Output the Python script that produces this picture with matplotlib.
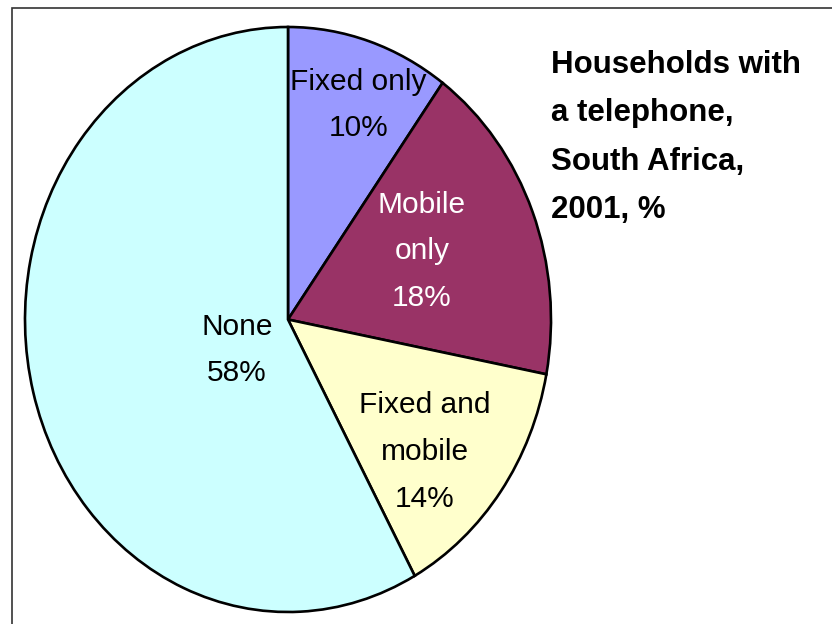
import numpy as np
import matplotlib.pyplot as plt
from matplotlib.patches import Rectangle

# Data
categories = ['Fixed only', 'Mobile only', 'Fixed and mobile', 'None']
label_text = ['Fixed only', 'Mobile\nonly', 'Fixed and\nmobile', 'None']
shares = [10, 18, 14, 58]
colors = ['#9999FF', '#993366', '#FFFFCC', '#CCFFFF']
text_colors = ['black', 'white', 'black', 'black']
title = 'Households with\na telephone,\nSouth Africa,\n2001, %'

# label placement tweaks (radius fraction, angle shift in degrees)
label_r = [0.78, 0.56, 0.69, 0.22]
label_shift = [-2, 3, -5, 14]

plt.rcParams['font.family'] = ['Liberation Sans', 'DejaVu Sans']

fig = plt.figure(figsize=(8.32, 6.24), dpi=100)
fig.patch.set_facecolor('white')

# outer chart frame (runs off the right and bottom edges)
fig.patches.append(Rectangle((11.5 / 832, -0.05), 1.2, 1 - 7.5 / 624 + 0.05,
                             transform=fig.transFigure, fill=False,
                             edgecolor='#333333', linewidth=1.2))

# pie is drawn stretched vertically like the original
ax = fig.add_axes([25 / 832, 12 / 624, 526 / 832, 585 / 624])
wedges, _ = ax.pie(shares, colors=colors, startangle=90, counterclock=False,
                   wedgeprops=dict(edgecolor='black', linewidth=1.9))
ax.set_aspect('auto')
ax.set_xlim(-1.0, 1.0)
ax.set_ylim(-1.0, 1.0)
ax.axis('off')

for w, txt, val, tc, r, sh in zip(wedges, label_text, shares, text_colors, label_r, label_shift):
    mid = np.deg2rad((w.theta1 + w.theta2) / 2 + sh)
    ax.text(r * np.cos(mid), r * np.sin(mid), f'{txt}\n{val}%', ha='center', va='center',
            fontsize=21.5, color=tc, linespacing=1.85)

fig.text(551 / 832, 1 - 50 / 624, title, ha='left', va='top', fontsize=22.5,
         fontweight='bold', linespacing=1.8)

fig.savefig('out.png', dpi=100)
